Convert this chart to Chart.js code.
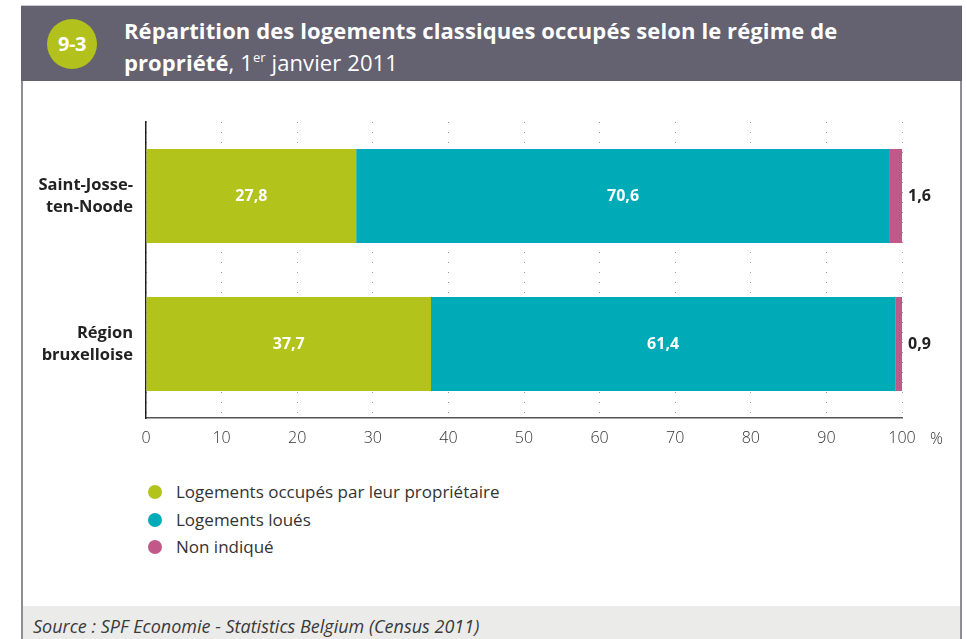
<!DOCTYPE html>
<html>
<head>
<meta charset="utf-8">
<script src="https://cdn.jsdelivr.net/npm/chart.js@4.4.1/dist/chart.umd.min.js"></script>
<style>
  body { margin: 0; background: #fff; font-family: "Open Sans", sans-serif; }
  #page { position: relative; width: 967px; height: 639px; overflow: hidden; }
  .head { position: absolute; left: 21px; top: 5px; width: 941px; height: 76px; background: #646170; border-top: 1px solid #c9c9cc; box-sizing: border-box; }
  .badge { position: absolute; left: 26px; top: 13px; width: 50px; height: 50px; border-radius: 50%; background: #b2c11c; color: #fff; font-weight: 700; font-size: 20px; line-height: 50px; text-align: center; letter-spacing: -0.5px; }
  .title { position: absolute; left: 103px; top: 8px; color: #fff; font-size: 22px; line-height: 32px; letter-spacing: 0.1px; }
  .title b { font-weight: 700; }
  .title sup { font-size: 13px; vertical-align: 9px; line-height: 0; }
  .vline { position: absolute; top: 81px; width: 2px; height: 558px; background: #8e8c95; }
  .foot { position: absolute; left: 23px; top: 606px; width: 937px; height: 33px; background: #ebecea; }
  .foot span { position: absolute; left: 10px; top: 8px; font-style: italic; font-size: 18px; color: #3a3a3a; letter-spacing: 0; }
  #chart { position: absolute; left: 23px; top: 82px; }
  .pct { position: absolute; left: 930px; top: 427px; font-size: 16px; color: #333; font-weight: 300; }
  #legend { position: absolute; left: 148px; top: 480px; }
  .item { height: 27.5px; font-size: 17px; color: #333; position: relative; }
  .item i { position: absolute; left: 0; top: 5px; width: 14px; height: 14px; border-radius: 50%; }
  .item span { position: absolute; left: 28px; top: 0; white-space: nowrap; }
</style>
</head>
<body>
<div id="page">
  <div class="head">
    <div class="badge">9-3</div>
    <div class="title"><b>Répartition des logements classiques occupés selon le régime de<br>propriété</b>, 1<sup>er</sup> janvier 2011</div>
  </div>
  <div class="vline" style="left:21px"></div>
  <div class="vline" style="left:960px"></div>
  <canvas id="chart" width="936" height="380"></canvas>
  <div class="pct">%</div>
  <div id="legend"></div>
  <div class="foot"><span>Source : SPF Economie - Statistics Belgium (Census 2011)</span></div>
</div>
<script>
const categories = [['Saint-Josse-', 'ten-Noode'], ['Région', 'bruxelloise']]
const seriesNames = ['Logements occupés par leur propriétaire', 'Logements loués', 'Non indiqué']
const proprietaires = [27.8, 37.7]
const loues = [70.6, 61.4]
const nonIndique = [1.6, 0.9]
const xTicks = [0, 10, 20, 30, 40, 50, 60, 70, 80, 90, 100]
const colors = ['#b2c31c', '#00abb8', '#c0588a']

const fmt = v => v.toFixed(1).replace('.', ',')

const legend = document.querySelector('#legend')
seriesNames.forEach((name, i) => {
    const d = document.createElement('div')
    d.className = 'item'
    d.innerHTML = '<i style="background:' + colors[i] + '"></i><span>' + name + '</span>'
    legend.appendChild(d)
})

const valueLabels = {
    id: 'valueLabels',
    afterDatasetsDraw(chart) {
        const ctx = chart.ctx
        ctx.save()
        ctx.font = 'bold 16px "Open Sans"'
        ctx.textBaseline = 'middle'
        chart.data.datasets.forEach((ds, di) => {
            const meta = chart.getDatasetMeta(di)
            meta.data.forEach((bar, i) => {
                const v = ds.data[i]
                if (di === chart.data.datasets.length - 1) {
                    ctx.fillStyle = '#222'
                    ctx.textAlign = 'left'
                    ctx.fillText(fmt(v), bar.x + 6, bar.y)
                } else {
                    ctx.fillStyle = '#fff'
                    ctx.textAlign = 'center'
                    ctx.fillText(fmt(v), (bar.x + bar.base) / 2, bar.y)
                }
            })
        })
        ctx.restore()
    }
}

const el = document.querySelector('#chart')
new Chart(el, {
    type: 'bar',
    data: {
        labels: categories,
        datasets: [
            { label: seriesNames[0], data: proprietaires, backgroundColor: colors[0] },
            { label: seriesNames[1], data: loues, backgroundColor: colors[1] },
            { label: seriesNames[2], data: nonIndique, backgroundColor: colors[2] }
        ]
    },
    options: {
        indexAxis: 'y',
        responsive: false,
        animation: false,
        categoryPercentage: 1,
        barPercentage: 0.635,
        layout: { padding: { top: 40, right: 57, left: 0, bottom: 0 } },
        plugins: { legend: { display: false }, tooltip: { enabled: false } },
        scales: {
            x: {
                stacked: true,
                min: 0,
                max: 100,
                afterFit: s => { s.height = 44 },
                afterBuildTicks: s => { s.ticks = xTicks.map(v => ({ value: v })) },
                grid: { color: '#999', drawTicks: false, lineWidth: 1 },
                border: { color: '#555', width: 1.5, dash: [1, 9] },
                ticks: { padding: 11, color: '#333', font: { family: 'Open Sans', size: 16, weight: 300 } }
            },
            y: {
                stacked: true,
                afterFit: s => { s.width = 123 },
                grid: { display: false, drawTicks: false },
                border: { color: '#222', width: 1.5 },
                ticks: { padding: 13, color: '#222', font: { family: 'Open Sans', size: 16.5, weight: 'bold', lineHeight: 1.35 } }
            }
        }
    },
    plugins: [valueLabels]
})
</script>
</body>
</html>
